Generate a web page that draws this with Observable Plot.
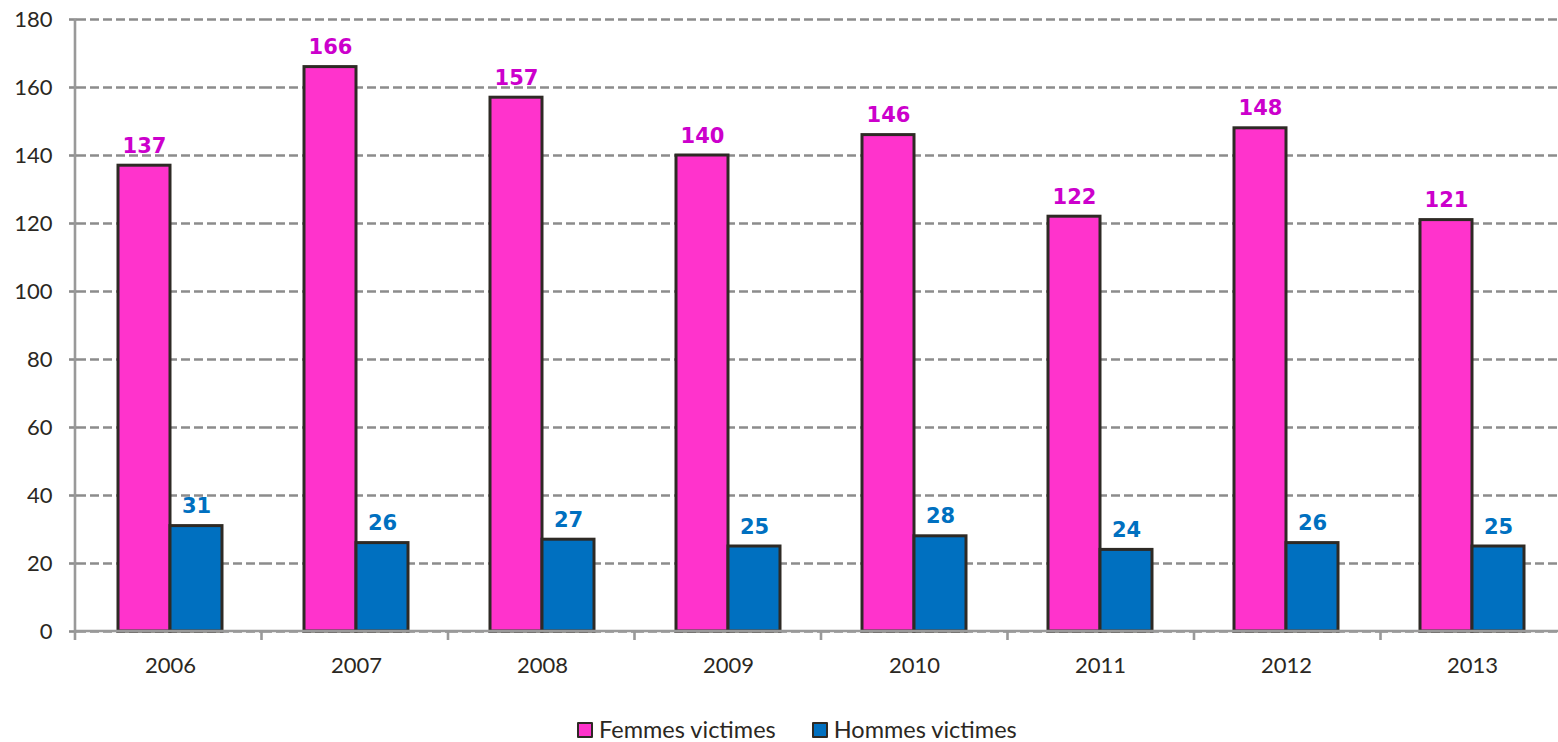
<!DOCTYPE html>
<html>
<head>
<meta charset="utf-8">
<script src="https://cdn.jsdelivr.net/npm/d3@7"></script>
<script src="https://cdn.jsdelivr.net/npm/@observablehq/plot@0.6"></script>
<style>
  html, body { margin: 0; padding: 0; background: #fff; overflow: hidden; width: 1558px; height: 742px; }
  #chart { position: absolute; left: 0; top: 0; width: 1567px; }
  #chart svg { max-width: none !important; }
  #legend { position: absolute; top: 718px; left: 577px; display: flex; align-items: center; line-height: 1;
            font-family: Lato, "Open Sans", sans-serif; font-size: 23.5px; color: #2b2722; white-space: nowrap; }
  .item { display: flex; align-items: center; margin-right: 36px; }
  .sw { width: 12px; height: 12px; border: 2.5px solid #2e2a25; margin-right: 6px; border-radius: 1px; }
</style>
</head>
<body>
<div id="chart"></div>
<div id="legend"></div>
<script>
const years = ["2006","2007","2008","2009","2010","2011","2012","2013"];
const femmes = [137,166,157,140,146,122,148,121];
const hommes = [31,26,27,25,28,24,26,25];
const series = ["Femmes victimes","Hommes victimes"];
const fills = ["#FF33CC","#0070C0"];
const labelColors = ["#CC00CC","#0070C0"];
const yTicks = [0,20,40,60,80,100,120,140,160,180];

const data = [];
years.forEach((yr, i) => {
  data.push({year: yr, series: series[0], value: femmes[i]});
  data.push({year: yr, series: series[1], value: hommes[i]});
});

const font = "Lato, 'Open Sans', sans-serif";
const chart = Plot.plot({
  width: 1567,
  height: 691,
  marginLeft: 75,
  marginRight: 0,
  marginTop: 19,
  marginBottom: 60,
  style: {fontFamily: font, fontSize: "22px", color: "#2b2722", background: "#fff", overflow: "visible", maxWidth: "none"},
  fx: {domain: years, padding: 0, label: null, axis: null},
  x: {domain: series, paddingInner: 0, paddingOuter: 0.76, axis: null},
  y: {domain: [0,180], ticks: yTicks, label: null, axis: null},
  color: {domain: series, range: fills},
  marks: [
    Plot.gridY(yTicks, {stroke: "#8c8c8c", strokeOpacity: 1, strokeWidth: 2.6, strokeDasharray: "9,4"}),
    Plot.axisY(yTicks, {tickSize: 8, tickPadding: 17, stroke: "#8c8c8c", strokeWidth: 2.6, fontSize: 22, label: null, tickFormat: d => String(d)}),
    Plot.axisFx({anchor: "bottom", tickSize: 0, tickPadding: 26, fontSize: 22, label: null}),
    Plot.barY(data, {fx: "year", x: "series", y: "value", fill: "series", stroke: "#2e2a25", strokeWidth: 3, inset: 0}),
    Plot.text(data, {fx: "year", x: "series", y: "value", text: d => String(d.value),
      fill: d => labelColors[series.indexOf(d.series)], lineAnchor: "bottom", dy: -13,
      fontFamily: "'DejaVu Sans', Verdana, sans-serif", fontWeight: "bold", fontSize: 21})
  ]
});
document.getElementById("chart").appendChild(chart);

// Axis lines and category boundary ticks from the plot's own scales
const fxS = chart.scale("fx");
const yS = chart.scale("y");
const fx = d3.scaleBand().domain(fxS.domain).range(fxS.range).paddingInner(0).paddingOuter(0);
const y = d3.scaleLinear().domain(yS.domain).range(yS.range);
const svg = d3.select(chart.tagName.toLowerCase() === "svg" ? chart : chart.querySelector("svg"));
const g = svg.append("g").attr("stroke", "#999").attr("stroke-width", 2.6);
const x0 = fx.range()[0], x1 = fx.range()[1];
g.append("line").attr("x1", x0).attr("x2", x0).attr("y1", y(180)).attr("y2", y(0) + 9);
g.append("line").attr("x1", x0).attr("x2", x1 + 20).attr("y1", y(0)).attr("y2", y(0));
years.forEach((yr, i) => {
  if (i === 0) return;
  const bx = fx(yr);
  g.append("line").attr("x1", bx).attr("x2", bx).attr("y1", y(0)).attr("y2", y(0) + 9);
});
g.append("line").attr("x1", x1).attr("x2", x1).attr("y1", y(0)).attr("y2", y(0) + 9);

// Legend
const leg = document.getElementById("legend");
series.forEach((s, i) => {
  const it = document.createElement("div"); it.className = "item";
  const sw = document.createElement("span"); sw.className = "sw"; sw.style.background = fills[i];
  const t = document.createElement("span"); t.textContent = s;
  it.appendChild(sw); it.appendChild(t); leg.appendChild(it);
});
</script>
</body>
</html>
